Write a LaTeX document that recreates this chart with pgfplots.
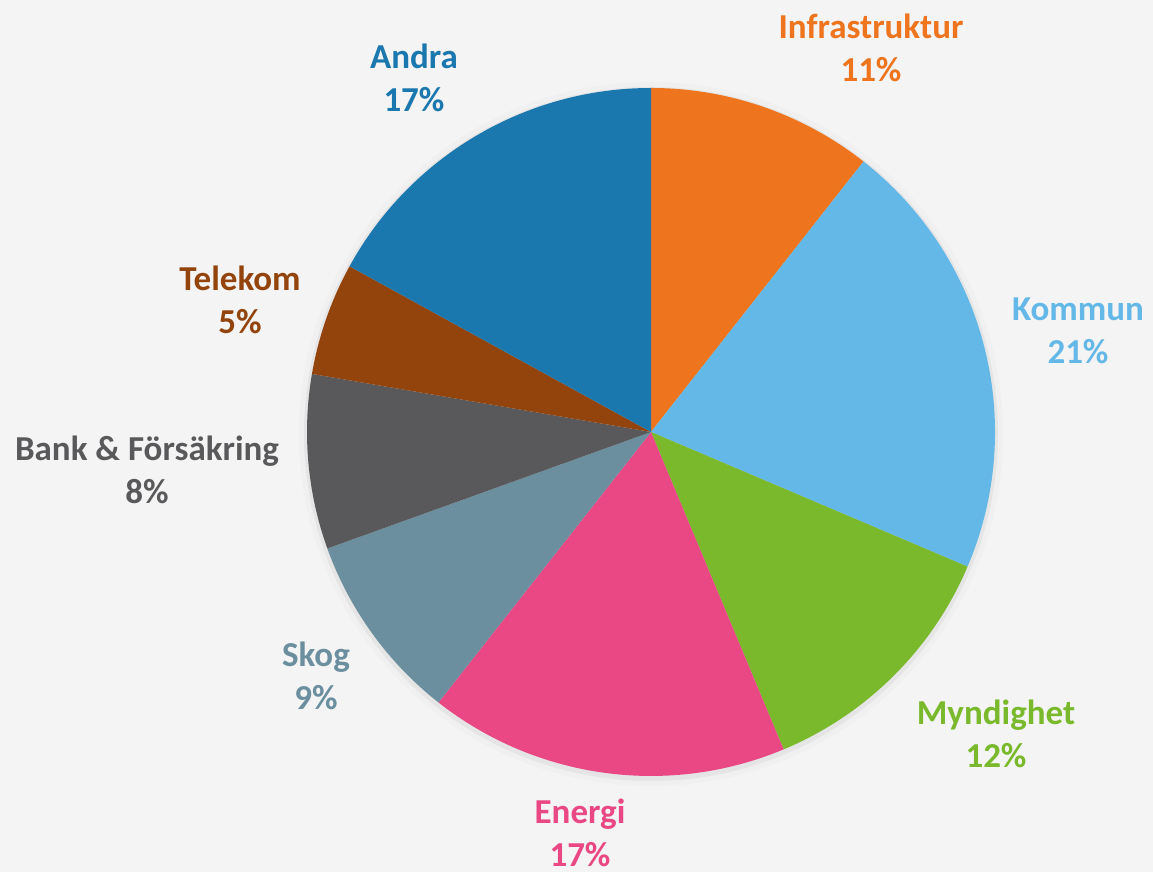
\documentclass[border=0pt]{standalone}
\usepackage{fontspec}
\setmainfont{Carlito}
\usepackage{pgfplots}
\pgfplotsset{compat=1.18}

\definecolor{bg}{HTML}{F4F4F4}
\definecolor{cInf}{HTML}{EE741D}
\definecolor{cKom}{HTML}{64B8E7}
\definecolor{cMyn}{HTML}{79B92B}
\definecolor{cEne}{HTML}{E94884}
\definecolor{cSko}{HTML}{6C8F9F}
\definecolor{cBan}{HTML}{59595B}
\definecolor{cTel}{HTML}{93440C}
\definecolor{cAnd}{HTML}{1B78AF}

\begin{document}
\begin{tikzpicture}
\begin{axis}[
  hide axis, clip=false,
  scale only axis, width=576.5pt, height=436pt,
  xmin=0, xmax=1153, ymin=0, ymax=872]

% background
\fill[bg] (axis cs:0,0) rectangle (axis cs:1153,872);
% soft shadow
\fill[black!10] (axis cs:651,438) circle[radius=174.5pt];
\fill[black!6] (axis cs:651,438) circle[radius=176pt];
\fill[black!10] (axis cs:651,438) circle[radius=173.5pt];

% share of each sector (%), clockwise from 12 o'clock
\def\cum{90}
\pgfplotsforeachungrouped \v/\c in {10.6/cInf, 20.8/cKom, 12.3/cMyn, 16.9/cEne,
    8.9/cSko, 8.2/cBan, 5.3/cTel, 17.0/cAnd}{%
  \pgfmathsetmacro\endang{\cum-3.6*\v}%
  \edef\temp{\noexpand\fill[\c] (axis cs:651,440) -- ++(\cum:172pt)
    arc[start angle=\cum, end angle=\endang, radius=172pt] -- cycle;}%
  \temp
  \global\let\cum\endang
}

\tikzset{lab/.style={font=\bfseries\fontsize{17.5}{21.5}\selectfont, align=center, anchor=center}}
\node[lab, text=cInf] at (axis cs:871,824) {Infrastruktur\\11\%};
\node[lab, text=cKom] at (axis cs:1078,541) {Kommun\\21\%};
\node[lab, text=cMyn] at (axis cs:996,138) {Myndighet\\12\%};
\node[lab, text=cEne] at (axis cs:580,39) {Energi\\17\%};
\node[lab, text=cSko] at (axis cs:316,196) {Skog\\9\%};
\node[lab, text=cBan] at (axis cs:147,402) {Bank \& Försäkring\\8\%};
\node[lab, text=cTel] at (axis cs:240,572) {Telekom\\5\%};
\node[lab, text=cAnd] at (axis cs:414,794) {Andra\\17\%};
\end{axis}
\end{tikzpicture}
\end{document}
